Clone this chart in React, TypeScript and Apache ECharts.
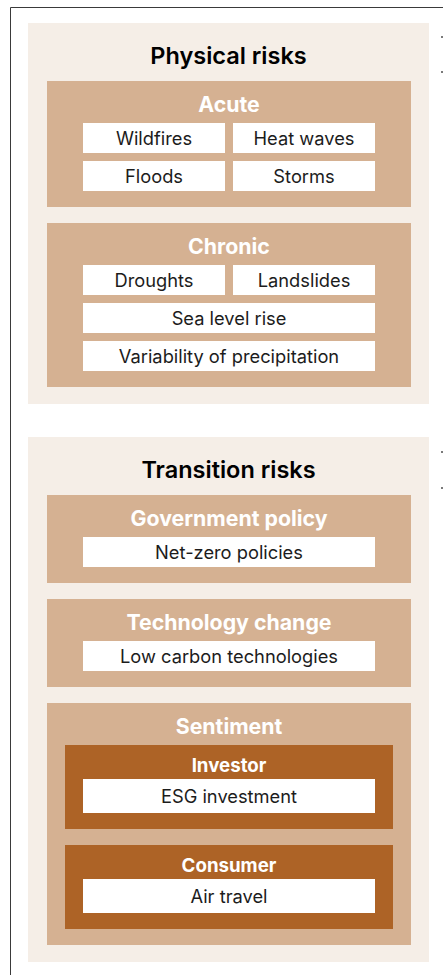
import React, { useEffect, useRef } from "react";
import * as echarts from "echarts";

// ---- data ----
const physicalTitle = "Physical risks";
const acuteTitle = "Acute";
const acuteItems: string[][] = [["Wildfires", "Heat waves"], ["Floods", "Storms"]];
const chronicTitle = "Chronic";
const chronicItems: string[][] = [["Droughts", "Landslides"], ["Sea level rise"], ["Variability of precipitation"]];

const transitionTitle = "Transition risks";
const govTitle = "Government policy";
const govItems: string[][] = [["Net-zero policies"]];
const techTitle = "Technology change";
const techItems: string[][] = [["Low carbon technologies"]];
const sentimentTitle = "Sentiment";
const investorTitle = "Investor";
const investorItems: string[][] = [["ESG investment"]];
const consumerTitle = "Consumer";
const consumerItems: string[][] = [["Air travel"]];

// ---- styles ----
const C_PANEL = "#f5eee7";
const C_MID = "#d5b192";
const C_DARK = "#ad6326";
const C_WHITE = "#ffffff";
const C_TEXT = "#1c1c1c";
const FONT = "Inter, 'Noto Sans', sans-serif";

type Group = { title: string; rows?: string[][]; subs?: { title: string; rows: string[][] }[] };

function buildGraphics() {
  const els: any[] = [];
  const rect = (x: number, y: number, w: number, h: number, fill: string) =>
    els.push({ type: "rect", shape: { x, y, width: w, height: h }, style: { fill }, silent: true });
  const text = (t: string, cx: number, cy: number, size: number, weight: string | number, fill: string) =>
    els.push({
      type: "text",
      x: cx,
      y: cy,
      style: { text: t, fill, font: `${weight} ${size}px ${FONT}`, align: "center", verticalAlign: "middle" },
      silent: true,
    });

  const rowsBlock = (rows: string[][], top: number, x0: number, x1: number, h: number) => {
    let y = top;
    rows.forEach((row, i) => {
      if (i > 0) y += 8;
      const gap = 8;
      const w = (x1 - x0 - gap * (row.length - 1)) / row.length;
      row.forEach((label, j) => {
        const bx = x0 + j * (w + gap);
        rect(bx, y, w, h, C_WHITE);
        text(label, bx + w / 2, y + h / 2, 18.3, 400, C_TEXT);
      });
      y += h;
    });
    return y;
  };

  const panel = (top: number, title: string, groups: Group[]) => {
    const px0 = 28, px1 = 429;
    const gx0 = 47, gx1 = 411;
    const sx0 = 65, sx1 = 393;
    const wx0 = 83, wx1 = 375;
    const startIdx = els.length;
    text(title, (px0 + px1) / 2, top + 32, 23.5, 600, "#000000");
    let y = top + 58;
    groups.forEach((g, gi) => {
      if (gi > 0) y += 16;
      const gTop = y;
      const gIdx = els.length;
      text(g.title, (gx0 + gx1) / 2, gTop + 23, 21.3, 700, C_WHITE);
      let bottom: number;
      if (g.subs) {
        let sy = gTop + 42;
        g.subs.forEach((s, si) => {
          if (si > 0) sy += 16;
          const sTop = sy;
          const sIdx = els.length;
          text(s.title, (sx0 + sx1) / 2, sTop + 20, 18.7, 700, C_WHITE);
          const rb = rowsBlock(s.rows, sTop + 34, wx0, wx1, 34);
          sy = rb + 16;
          els.splice(sIdx, 0, { type: "rect", shape: { x: sx0, y: sTop, width: sx1 - sx0, height: sy - sTop }, style: { fill: C_DARK }, silent: true });
        });
        bottom = sy + 16;
      } else {
        const rb = rowsBlock(g.rows || [], gTop + 42, wx0, wx1, 30);
        bottom = rb + 16;
      }
      els.splice(gIdx, 0, { type: "rect", shape: { x: gx0, y: gTop, width: gx1 - gx0, height: bottom - gTop }, style: { fill: C_MID }, silent: true });
      y = bottom;
    });
    const pBottom = y + 17;
    els.splice(startIdx, 0, { type: "rect", shape: { x: px0, y: top, width: px1 - px0, height: pBottom - top }, style: { fill: C_PANEL }, silent: true });
    return pBottom;
  };

  // outer frame
  els.push({
    type: "rect",
    shape: { x: 10.5, y: 7.5, width: 600, height: 1100 },
    style: { fill: "#ffffff", stroke: "#3a3a3a", lineWidth: 1 },
    silent: true,
  });

  const pb = panel(23, physicalTitle, [
    { title: acuteTitle, rows: acuteItems },
    { title: chronicTitle, rows: chronicItems },
  ]);
  panel(pb + 33, transitionTitle, [
    { title: govTitle, rows: govItems },
    { title: techTitle, rows: techItems },
    {
      title: sentimentTitle,
      subs: [
        { title: investorTitle, rows: investorItems },
        { title: consumerTitle, rows: consumerItems },
      ],
    },
  ]);

  // clipped fragments at right edge
  [36, 71, 451, 487].forEach((yy) => rect(441, yy, 2, 2, "#7a7a7a"));

  return els;
}

export default function App() {
  const ref = useRef<HTMLDivElement>(null);
  useEffect(() => {
    document.body.style.margin = "0";
    if (!ref.current) return;
    const chart = echarts.init(ref.current, undefined, { renderer: "svg" });
    chart.setOption({
      animation: false,
      backgroundColor: "#ffffff",
      graphic: { elements: buildGraphics() },
    });
    return () => chart.dispose();
  }, []);
  return <div ref={ref} style={{ width: 443, height: 975 }} />;
}
